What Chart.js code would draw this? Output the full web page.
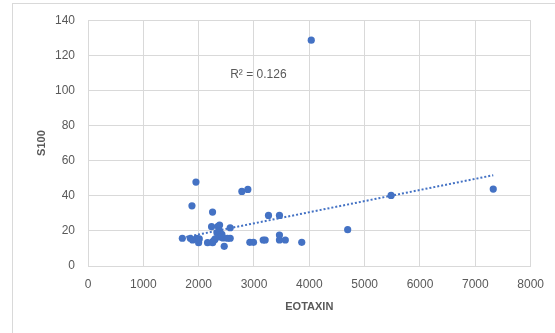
<!DOCTYPE html>
<html>
<head>
<meta charset="utf-8">
<script src="https://cdn.jsdelivr.net/npm/chart.js@4/dist/chart.umd.min.js"></script>
<style>
  html, body { margin: 0; padding: 0; background: #fff; }
  #wrap { width: 555px; height: 333px; }
</style>
</head>
<body>
<div id="wrap"><canvas id="c" width="555" height="333"></canvas></div>
<script>
// EOTAXIN vs S100
const eotaxin = [4035, 1951, 1879, 2251, 2781, 2889, 5478, 7324, 4693, 3262, 3460, 3460, 3460, 3566,
  3166, 3202, 2925, 2991, 3863, 2570, 2570, 1705, 1849, 1890, 1963, 1999, 2011, 2161, 2251, 2233,
  2378, 2350, 2330, 2375, 2420, 2400, 2440, 2462, 2290, 2300, 2520, 2260];
const s100 = [128.6, 47.8, 34.3, 30.7, 42.5, 43.6, 40.2, 43.8, 20.7, 28.8, 28.8, 17.6, 14.8, 14.8,
  14.8, 14.8, 13.5, 13.5, 13.5, 21.8, 15.8, 15.8, 15.8, 14.8, 15.8, 13.3, 15.4, 13.3, 13.3, 22.4,
  23.3, 22.6, 19, 20, 18, 16.5, 16, 11.2, 15, 15.5, 15.8, 14];

// Línea de tendencia lineal (extremos)
const trendX = [1705, 7324];
const trendY = [16.1, 51.7];
const r2Text = "R\u00b2 = 0.126";

const xTicks = [0, 1000, 2000, 3000, 4000, 5000, 6000, 7000, 8000];
const yTicks = [0, 20, 40, 60, 80, 100, 120, 140];

const blue = "#4472c4";
const grey = "#595959";
const gridColor = "#d9d9d9";

const puntos = eotaxin.map((x, i) => ({ x: x, y: s100[i] }));
const tendencia = trendX.map((x, i) => ({ x: x, y: trendY[i] }));

// Marco exterior y etiqueta de R²
const extras = {
  id: "extras",
  beforeDraw(chart) {
    const ctx = chart.ctx;
    ctx.save();
    ctx.strokeStyle = gridColor;
    ctx.lineWidth = 1;
    ctx.strokeRect(12.5, 3.5, 600, 400);
    ctx.restore();
  },
  afterDatasetsDraw(chart) {
    const ctx = chart.ctx;
    const xs = chart.scales.x, ys = chart.scales.y;
    ctx.save();
    ctx.font = "12px 'Liberation Sans', Arial, sans-serif";
    ctx.fillStyle = grey;
    ctx.textAlign = "left";
    ctx.textBaseline = "middle";
    ctx.fillText(r2Text, xs.getPixelForValue(2570), ys.getPixelForValue(108.7));
    ctx.restore();
  },
};

Chart.defaults.font.family = "'Liberation Sans', Arial, sans-serif";
Chart.defaults.font.size = 12;
Chart.defaults.color = grey;

new Chart(document.getElementById("c"), {
  type: "scatter",
  data: {
    datasets: [
      {
        label: "S100",
        data: puntos,
        backgroundColor: blue,
        borderColor: blue,
        pointRadius: 3.6,
        pointBorderWidth: 0,
        order: 1,
      },
      {
        label: "Tendencia",
        data: tendencia,
        type: "line",
        showLine: true,
        borderColor: blue,
        borderWidth: 2,
        borderDash: [2, 2],
        pointRadius: 0,
        fill: false,
        order: 2,
      },
    ],
  },
  options: {
    responsive: false,
    animation: false,
    events: [],
    layout: { padding: { left: 0, top: 20, right: 23, bottom: 0 } },
    plugins: { legend: { display: false }, tooltip: { enabled: false } },
    scales: {
      x: {
        type: "linear",
        min: 0,
        max: 8000,
        afterBuildTicks: (s) => { s.ticks = xTicks.map((v) => ({ value: v })); },
        afterFit: (s) => { s.height = 67; },
        ticks: { padding: 11, maxRotation: 0, color: grey, callback: (v) => String(v) },
        grid: { color: gridColor, drawTicks: false },
        border: { color: gridColor },
        title: {
          display: true,
          text: "EOTAXIN",
          color: grey,
          font: { size: 11, weight: "bold" },
          padding: { bottom: 19 },
        },
      },
      y: {
        type: "linear",
        min: 0,
        max: 140,
        afterBuildTicks: (s) => { s.ticks = yTicks.map((v) => ({ value: v })); },
        afterFit: (s) => { s.width = 88; },
        ticks: { padding: 13, color: grey, callback: (v) => String(v) },
        grid: { color: gridColor, drawTicks: false },
        border: { color: gridColor },
        title: {
          display: true,
          text: "S100",
          color: grey,
          font: { size: 11, weight: "bold" },
          padding: { top: 35 },
        },
      },
    },
  },
  plugins: [extras],
});
</script>
</body>
</html>
